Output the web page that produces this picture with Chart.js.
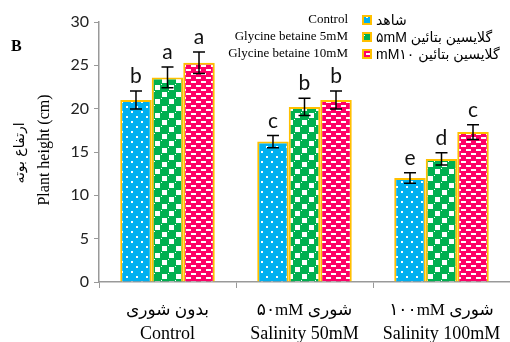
<!DOCTYPE html>
<html>
<head>
<meta charset="utf-8">
<script src="https://cdn.jsdelivr.net/npm/chart.js@4/dist/chart.umd.min.js"></script>
<style>
  html, body { margin: 0; padding: 0; background: #fff; }
  #wrap { width: 510px; height: 342px; position: relative; }
</style>
</head>
<body>
<div id="wrap"><canvas id="heightChart" width="510" height="342"></canvas></div>
<script>
// data
var categories = ['Control', 'Salinity 50mM', 'Salinity 100mM'];
var categoriesFa = ['بدون شوری', '۵۰mM شوری', '۱۰۰mM شوری'];
var seriesEn = ['Control', 'Glycine betaine 5mM', 'Glycine betaine 10mM'];
var seriesFa = ['شاهد', '۵mM گلایسین بتائین', 'mM۱۰ گلایسین بتائین'];
var controlVals = [21.0, 16.2, 12.0];
var gb5Vals = [23.6, 20.2, 14.2];
var gb10Vals = [25.3, 21.0, 17.3];
var controlErr = [1.05, 0.7, 0.6];
var gb5Err = [1.2, 1.0, 0.7];
var gb10Err = [1.25, 1.05, 0.85];
var controlLetters = ['b', 'c', 'e'];
var gb5Letters = ['a', 'b', 'd'];
var gb10Letters = ['a', 'b', 'c'];
var yTicks = [0, 5, 10, 15, 20, 25, 30];

var borderOrange = '#FFC000';
var axisGrey = '#999999';

// --- fill patterns ---
function makePattern(kind) {
    var c = document.createElement('canvas');
    var g = c.getContext('2d');
    if (kind === 'dots') {
        c.width = 10; c.height = 10;
        g.fillStyle = '#00B0F0'; g.fillRect(0, 0, 10, 10);
        g.fillStyle = '#ffffff';
        g.fillRect(1, 1, 2, 2);
        g.fillRect(6, 6, 2, 2);
    } else if (kind === 'checker') {
        c.width = 14; c.height = 14;
        g.fillStyle = '#00B050'; g.fillRect(0, 0, 14, 14);
        g.fillStyle = '#ffffff';
        g.fillRect(1, 1, 5, 5);
        g.fillRect(8, 8, 5, 5);
        g.fillRect(0, 7, 1, 1); g.fillRect(7, 0, 1, 1);
    } else {
        c.width = 10; c.height = 8;
        g.fillStyle = '#FF0066'; g.fillRect(0, 0, 10, 8);
        g.fillStyle = '#ffffff';
        g.fillRect(1, 1, 5, 2);
        g.fillRect(6, 5, 4, 2);
        g.fillRect(0, 5, 1, 2);
    }
    return g.createPattern(c, 'repeat');
}

var fills = [makePattern('dots'), makePattern('checker'), makePattern('dashes')];
var errs = [controlErr, gb5Err, gb10Err];
var letters = [controlLetters, gb5Letters, gb10Letters];

// error bars + significance letters
var errorBarPlugin = {
    id: 'errorBars',
    afterDatasetsDraw: function (chart) {
        var ctx = chart.ctx;
        var yScale = chart.scales.y;
        ctx.save();
        chart.data.datasets.forEach(function (ds, di) {
            var meta = chart.getDatasetMeta(di);
            meta.data.forEach(function (bar, i) {
                var v = ds.data[i];
                var e = errs[di][i];
                var yHi = yScale.getPixelForValue(v + e);
                var yLo = yScale.getPixelForValue(v - e);
                ctx.strokeStyle = '#000';
                ctx.lineWidth = 1.5;
                ctx.beginPath();
                ctx.moveTo(bar.x, yHi); ctx.lineTo(bar.x, yLo);
                ctx.moveTo(bar.x - 6, yHi); ctx.lineTo(bar.x + 6, yHi);
                ctx.moveTo(bar.x - 6, yLo); ctx.lineTo(bar.x + 6, yLo);
                ctx.stroke();
                ctx.fillStyle = '#111';
                ctx.font = '21px Lato, "Open Sans", sans-serif';
                ctx.textAlign = 'center';
                ctx.textBaseline = 'alphabetic';
                ctx.fillText(letters[di][i], bar.x, yHi - 8);
            });
        });
        ctx.restore();
    }
};

// legend, panel letter, axis titles, category labels
var textPlugin = {
    id: 'extraText',
    afterDraw: function (chart) {
        var ctx = chart.ctx;
        var xScale = chart.scales.x;
        ctx.save();

        ctx.fillStyle = '#000';
        ctx.font = 'bold 16px "Liberation Serif", serif';
        ctx.textAlign = 'left';
        ctx.textBaseline = 'middle';
        ctx.fillText('B', 11, 47);

        // legend
        var rowsY = [20, 37, 54];
        for (var i = 0; i < 3; i++) {
            ctx.fillStyle = '#000';
            ctx.font = '13px "Liberation Serif", serif';
            ctx.textAlign = 'right';
            ctx.fillText(seriesEn[i], 348, rowsY[i]);
            ctx.fillStyle = borderOrange;
            ctx.fillRect(362, rowsY[i] - 5, 10, 10);
            ctx.fillStyle = fills[i];
            ctx.fillRect(364, rowsY[i] - 3, 6, 6);
            ctx.fillStyle = '#000';
            ctx.font = '14px "Liberation Sans", "DejaVu Sans", sans-serif';
            ctx.textAlign = 'left';
            ctx.fillText(seriesFa[i], 376, rowsY[i] + 1);
        }

        // y axis titles
        ctx.save();
        ctx.translate(45, 150);
        ctx.rotate(-Math.PI / 2);
        ctx.textAlign = 'center';
        ctx.fillStyle = '#000';
        ctx.font = '16px "Liberation Serif", serif';
        ctx.fillText('Plant height (cm)', 0, 0);
        ctx.restore();
        ctx.save();
        ctx.translate(20, 153);
        ctx.rotate(-Math.PI / 2);
        ctx.textAlign = 'center';
        ctx.font = '14px "DejaVu Sans", sans-serif';
        ctx.fillText('ارتفاع بوته', 0, 0);
        ctx.restore();

        // category labels
        ctx.textAlign = 'center';
        categories.forEach(function (c, i) {
            var x = xScale.getPixelForValue(i);
            ctx.font = '17px "Liberation Serif", "DejaVu Sans", serif';
            ctx.fillText(categoriesFa[i], x, 311);
            ctx.font = '18px "Liberation Serif", serif';
            ctx.fillText(c, x, 334);
        });
        ctx.restore();
    }
};

var ctxHeight = document.getElementById('heightChart');
new Chart(ctxHeight, {
    type: 'bar',
    data: {
        labels: categories,
        datasets: [
            { label: seriesEn[0], data: controlVals, backgroundColor: fills[0], borderColor: borderOrange, borderWidth: 2 },
            { label: seriesEn[1], data: gb5Vals, backgroundColor: fills[1], borderColor: borderOrange, borderWidth: 2 },
            { label: seriesEn[2], data: gb10Vals, backgroundColor: fills[2], borderColor: borderOrange, borderWidth: 2 }
        ]
    },
    options: {
        responsive: false, animation: false,
        layout: { padding: { top: 22, left: 0, right: 0, bottom: 0 } },
        datasets: { bar: { categoryPercentage: 0.69, barPercentage: 1.0 } },
        scales: {
            x: {
                ticks: { display: false },
                grid: { drawOnChartArea: false, tickLength: 6, color: axisGrey, offset: true },
                border: { color: axisGrey, width: 1.5 },
                afterFit: function (scale) { scale.height = 60; }
            },
            y: {
                min: 0, max: 30,
                afterBuildTicks: function (scale) {
                    scale.ticks = yTicks.map(function (v) { return { value: v }; });
                },
                ticks: { font: { family: 'Lato, "Open Sans", sans-serif', size: 16 }, color: '#222', padding: 5 },
                grid: { drawOnChartArea: false, tickLength: 5, color: axisGrey },
                border: { color: axisGrey, width: 1.5 },
                afterFit: function (scale) { scale.width = 99; }
            }
        },
        plugins: { legend: { display: false }, tooltip: { enabled: false } }
    },
    plugins: [errorBarPlugin, textPlugin]
});
</script>
</body>
</html>
